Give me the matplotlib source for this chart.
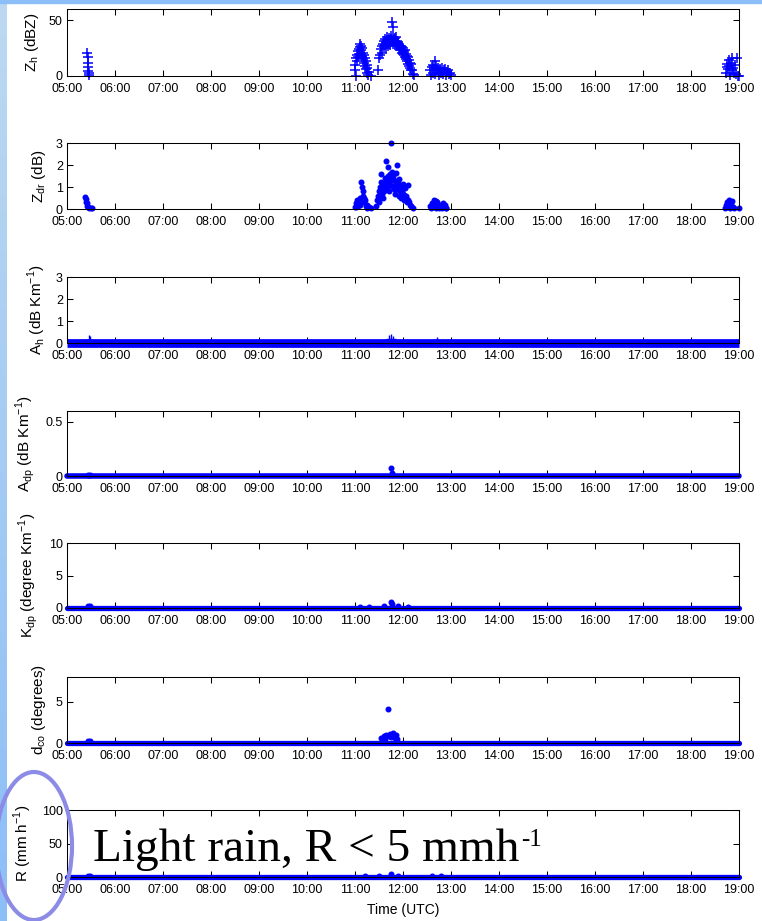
# -*- coding: utf-8 -*-
"""
Variables polarimetricas del radar durante el dia (05:00 - 19:00 UTC)
"""

import numpy as np
import matplotlib.pyplot as plt
from matplotlib.colors import LinearSegmentedColormap
from matplotlib.patches import Ellipse, Rectangle

plt.rcParams['font.family'] = ['Liberation Sans', 'DejaVu Sans']

# eje de tiempo (horas UTC)
horas = [5, 6, 7, 8, 9, 10, 11, 12, 13, 14, 15, 16, 17, 18, 19]
etiquetas_horas = ['05:00', '06:00', '07:00', '08:00', '09:00', '10:00', '11:00',
                   '12:00', '13:00', '14:00', '15:00', '16:00', '17:00', '18:00', '19:00']

# linea base: valores en cero todo el dia
base_t = [5.0, 19.0]
base_v = [0.0, 0.0]

# Zh (dBZ)
zh_t = [5.42, 5.43, 5.43, 5.44, 5.44, 5.45, 5.45,
        11.00, 11.01, 11.02, 11.03, 11.04, 11.05, 11.06, 11.07, 11.08, 11.09, 11.10,
        11.11, 11.12, 11.13, 11.14, 11.15, 11.16, 11.17, 11.18, 11.19, 11.20, 11.21,
        11.22, 11.23, 11.24, 11.25, 11.26, 11.28, 11.30, 11.33, 11.47,
        11.50, 11.52, 11.54, 11.56, 11.57, 11.58, 11.60, 11.61, 11.62, 11.63, 11.64,
        11.65, 11.66, 11.67, 11.68, 11.69, 11.70, 11.71, 11.72, 11.73, 11.74, 11.75,
        11.76, 11.77, 11.78, 11.785, 11.79, 11.80, 11.81, 11.82, 11.83, 11.84, 11.85,
        11.86, 11.87, 11.88, 11.89, 11.90, 11.91, 11.92, 11.93, 11.94, 11.95, 11.96,
        11.97, 11.98, 11.99, 12.00, 12.01, 12.02, 12.03, 12.04, 12.05, 12.06, 12.07,
        12.08, 12.09, 12.10, 12.11, 12.12, 12.13, 12.14, 12.15, 12.16, 12.17, 12.19,
        12.21, 12.23,
        12.56, 12.58, 12.60, 12.62, 12.63, 12.65, 12.66, 12.67, 12.68, 12.70, 12.72,
        12.74, 12.76, 12.78, 12.80, 12.82, 12.84, 12.86, 12.88, 12.90, 12.92, 12.94,
        12.96, 12.98, 13.00,
        18.72, 18.74, 18.76, 18.78, 18.79, 18.80, 18.82, 18.83, 18.85, 18.86, 18.88,
        18.90, 18.92, 18.94, 18.96, 18.97, 19.00]
zh_v = [20.3, 16.7, 11.9, 8.3, 4.7, 3.0, 1.0,
        5, 10, 16, 0, 13, 19, 22, 17, 24, 20, 26,
        29, 23, 27, 18, 25, 21, 15, 19, 12, 16, 9,
        13, 6, 10, 3, 7, 1, 4, 0, 5,
        16, 19, 24, 27, 21, 29, 26, 31, 28, 33, 25,
        30, 35, 29, 32, 27, 34, 30, 32, 28, 33, 30,
        36, 31, 48, 44, 29, 35, 31, 33, 28, 34, 30,
        35, 27, 31, 29, 30, 25, 28, 27, 23, 26, 24,
        26, 21, 23, 25, 20, 22, 19, 23, 17, 20, 15,
        18, 13, 17, 11, 14, 9, 12, 7, 11, 5, 5,
        2, 1,
        5, 1, 8, 3, 10, 6, 13, 2, 9, 5, 7,
        1, 4, 6, 3, 7, 2, 5, 6, 1, 4, 5,
        2, 3, 1,
        3, 8, 11, 6, 14, 9, 1, 12, 5, 16, 7,
        3, 10, 2, 16, 0, 0]

# Zdr (dB)
zdr_t = [5.38, 5.39, 5.40, 5.41, 5.42, 5.44, 5.46, 5.50, 5.53,
         11.00, 11.02, 11.03, 11.04, 11.05, 11.06, 11.07, 11.08, 11.10, 11.11, 11.13,
         11.15, 11.16, 11.17, 11.18, 11.19, 11.20, 11.22, 11.24, 11.26, 11.29, 11.33,
         11.43,
         11.46, 11.48, 11.50, 11.51, 11.52, 11.53, 11.54, 11.55, 11.56, 11.57, 11.58,
         11.59, 11.60, 11.61, 11.62, 11.63, 11.64, 11.65, 11.66, 11.67, 11.68, 11.69,
         11.70, 11.71, 11.72, 11.73, 11.74, 11.76, 11.77, 11.78, 11.79, 11.80, 11.81,
         11.82, 11.83, 11.84, 11.85, 11.86, 11.87, 11.88, 11.89, 11.90, 11.91, 11.92,
         11.93, 11.95, 11.96, 11.97, 11.99, 12.00, 12.02, 12.03, 12.05, 12.06, 12.07,
         12.08, 12.10, 12.11, 12.13, 12.15, 12.17, 12.20,
         12.57, 12.59, 12.61, 12.63, 12.64, 12.66, 12.68, 12.69, 12.71, 12.73, 12.74,
         12.76, 12.78, 12.80, 12.82, 12.84, 12.86, 12.87, 12.89, 12.90,
         18.70, 18.72, 18.74, 18.76, 18.78, 18.80, 18.82, 18.84, 18.86, 18.88, 18.90,
         19.00]
zdr_v = [0.53, 0.45, 0.33, 0.25, 0.13, 0.08, 0.05, 0.05, 0.05,
         0.1, 0.26, 0.1, 0.4, 0.2, 0.3, 0.15, 0.35, 0.5, 0.2, 1.24,
         1.0, 0.8, 0.6, 0.5, 0.3, 0.4, 0.15, 0.2, 0.05, 0.1, 0.05,
         0.15,
         0.4, 0.6, 0.8, 0.3, 0.5, 1.0, 1.24, 1.6, 0.7, 1.0, 0.9,
         0.5, 1.2, 0.8, 1.4, 1.1, 2.2, 0.9, 1.3, 1.0, 1.9, 1.5,
         1.2, 0.8, 1.6, 1.1, 1.3, 3.0, 1.4, 1.7, 1.0, 1.5, 0.9,
         1.3, 1.1, 0.7, 1.65, 1.2, 0.9, 2.0, 1.0, 1.2, 0.6, 1.35,
         0.8, 1.0, 0.5, 0.8, 1.15, 0.7, 0.65, 0.4, 0.95, 0.6, 0.5,
         0.3, 1.1, 0.4, 0.3, 0.2, 0.15, 0.05,
         0.15, 0.05, 0.25, 0.1, 0.4, 0.2, 0.35, 0.05, 0.3, 0.1, 0.2,
         0.05, 0.15, 0.15, 0.05, 0.25, 0.1, 0.2, 0.05, 0.05,
         0.05, 0.2, 0.1, 0.3, 0.15, 0.4, 0.05, 0.25, 0.35, 0.1, 0.05,
         0.05]

# Ah (dB/km)
ah_t = [5.45, 5.47, 11.70, 11.76, 11.80, 12.70]
ah_v = [0.12, 0.08, 0.12, 0.18, 0.10, 0.05]

# Adp (dB/km)
adp_t = [5.43, 5.47, 11.76, 11.78]
adp_v = [0.01, 0.01, 0.07, 0.03]

# Kdp (grados/km)
kdp_t = [5.43, 5.47, 11.10, 11.30, 11.60, 11.76, 11.77, 11.90, 12.10]
kdp_v = [0.3, 0.3, 0.2, 0.2, 0.3, 1.0, 0.6, 0.3, 0.2]

# dco (grados)
dco_t = [5.43, 5.47, 11.55, 11.60, 11.62, 11.65, 11.69, 11.70, 11.72, 11.75,
         11.78, 11.80, 11.83, 11.86, 11.88]
dco_v = [0.2, 0.2, 0.6, 0.9, 0.5, 1.0, 4.1, 0.8, 1.1, 0.7,
         1.0, 1.2, 0.6, 1.0, 0.5]

# R (mm/h)
r_t = [5.43, 5.47, 11.20, 11.50, 11.76, 11.90, 12.60, 12.80]
r_v = [2, 2, 1.5, 2, 5, 2, 1.5, 1.5]


def ejes(fig, arriba, abajo):
    W, H = 762.0, 921.0
    ax = fig.add_axes([67 / W, 1 - abajo / H, 672 / W, (abajo - arriba) / H])
    ax.set_xlim(5, 19)
    ax.set_xticks(horas)
    ax.set_xticklabels(etiquetas_horas)
    ax.tick_params(direction='in', top=True, right=True, length=4.3, width=0.75,
                   labelsize=9, colors='k')
    ax.tick_params(axis='x', pad=5)
    ax.tick_params(axis='y', pad=3)
    for s in ax.spines.values():
        s.set_linewidth(0.75)
    return ax


def graficas():
    fig = plt.figure(figsize=(7.62, 9.21), dpi=100)

    # fondo de la diapositiva
    franja = fig.add_axes([0, 0, 7 / 762, 1])
    grad = np.linspace(1, 0, 200).reshape(-1, 1)
    cmap = LinearSegmentedColormap.from_list('f', ['#8cbef8', '#bcd9f0'])
    franja.imshow(grad, aspect='auto', cmap=cmap, extent=[0, 1, 0, 1], interpolation='bilinear')
    franja.axis('off')
    fig.patches.append(Rectangle((0, 1 - 3 / 921), 1, 3 / 921, transform=fig.transFigure,
                                 color='#8cbef8', zorder=0))

    azul = '#0000ff'

    ax = ejes(fig, 9, 76)
    ax.plot(zh_t, zh_v, '+', color=azul, ms=7.5, mew=1.1, clip_on=False)
    ax.set_ylim(0, 60)
    ax.set_yticks([0, 50])
    ax.set_ylabel(r'Z$_\mathregular{h}$ (dBZ)', fontsize=11, labelpad=6)

    ax = ejes(fig, 143, 209)
    ax.plot(zdr_t, zdr_v, 'o', color=azul, ms=3.3, clip_on=False)
    ax.set_ylim(0, 3)
    ax.set_yticks([0, 1, 2, 3])
    ax.set_ylabel(r'Z$_\mathregular{dr}$ (dB)', fontsize=11, labelpad=6)

    ax = ejes(fig, 277, 343)
    ax.plot(base_t, base_v, '-', color=azul, lw=6.3, solid_capstyle='butt', clip_on=False)
    ax.plot(ah_t, ah_v, '+', color=azul, ms=7, mew=1, clip_on=False)
    ax.set_ylim(0, 3)
    ax.set_yticks([0, 1, 2, 3])
    ax.set_ylabel(r'A$_\mathregular{h}$ (dB Km$^\mathregular{-1}$)', fontsize=11, labelpad=6)

    ax = ejes(fig, 411, 476)
    ax.plot(base_t, base_v, '-', color=azul, lw=4, solid_capstyle='round', clip_on=False)
    ax.plot(adp_t, adp_v, 'o', color=azul, ms=3.3, clip_on=False)
    ax.set_ylim(0, 0.6)
    ax.set_yticks([0, 0.5])
    ax.set_yticklabels(['0', '0.5'])
    ax.set_ylabel(r'A$_\mathregular{dp}$ (dB Km$^\mathregular{-1}$)', fontsize=11, labelpad=6)

    ax = ejes(fig, 543, 608)
    ax.plot(base_t, base_v, '-', color=azul, lw=3.8, solid_capstyle='round', clip_on=False)
    ax.plot(kdp_t, kdp_v, 'o', color=azul, ms=3.3, clip_on=False)
    ax.set_ylim(0, 10)
    ax.set_yticks([0, 5, 10])
    ax.set_ylabel(r'K$_\mathregular{dp}$ (degree Km$^\mathregular{-1}$)', fontsize=11, labelpad=6)

    ax = ejes(fig, 677, 743)
    ax.plot(base_t, base_v, '-', color=azul, lw=3.8, solid_capstyle='round', clip_on=False)
    ax.plot(dco_t, dco_v, 'o', color=azul, ms=3.3, clip_on=False)
    ax.set_ylim(0, 8)
    ax.set_yticks([0, 5])
    ax.set_ylabel(r'd$_\mathregular{co}$ (degrees)', fontsize=11, labelpad=6)

    ax = ejes(fig, 810, 877)
    ax.plot(base_t, base_v, '-', color=azul, lw=3.8, solid_capstyle='round', clip_on=False)
    ax.plot(r_t, r_v, 'o', color=azul, ms=3.3, clip_on=False)
    ax.set_ylim(0, 100)
    ax.set_yticks([0, 50, 100])
    ax.set_ylabel(r'R (mm h$^\mathregular{-1}$)', fontsize=11, labelpad=6)
    ax.set_xlabel('Time (UTC)', fontsize=10, labelpad=5)

    # texto grande de la diapositiva
    txt = fig.text(93 / 762, 1 - 861 / 921, 'Light rain, R < 5 mmh', family='Liberation Serif',
                   fontsize=34, va='baseline', ha='left', zorder=5)
    rend = fig.canvas.get_renderer()
    bb = txt.get_window_extent(rend)
    fig.text((bb.x1 + 2) / 762, 1 - 846 / 921, '-1', family='Liberation Serif',
             fontsize=18, va='baseline', ha='left', zorder=5)

    fig.patches.append(Ellipse((34 / 762, 1 - 846 / 921), 76 / 762, 148 / 921,
                               transform=fig.transFigure, fill=False, ec='#8c8ce6', lw=3,
                               zorder=6))

    fig.savefig('out.png', dpi=100)
    return


if __name__ == '__main__':
    graficas()
